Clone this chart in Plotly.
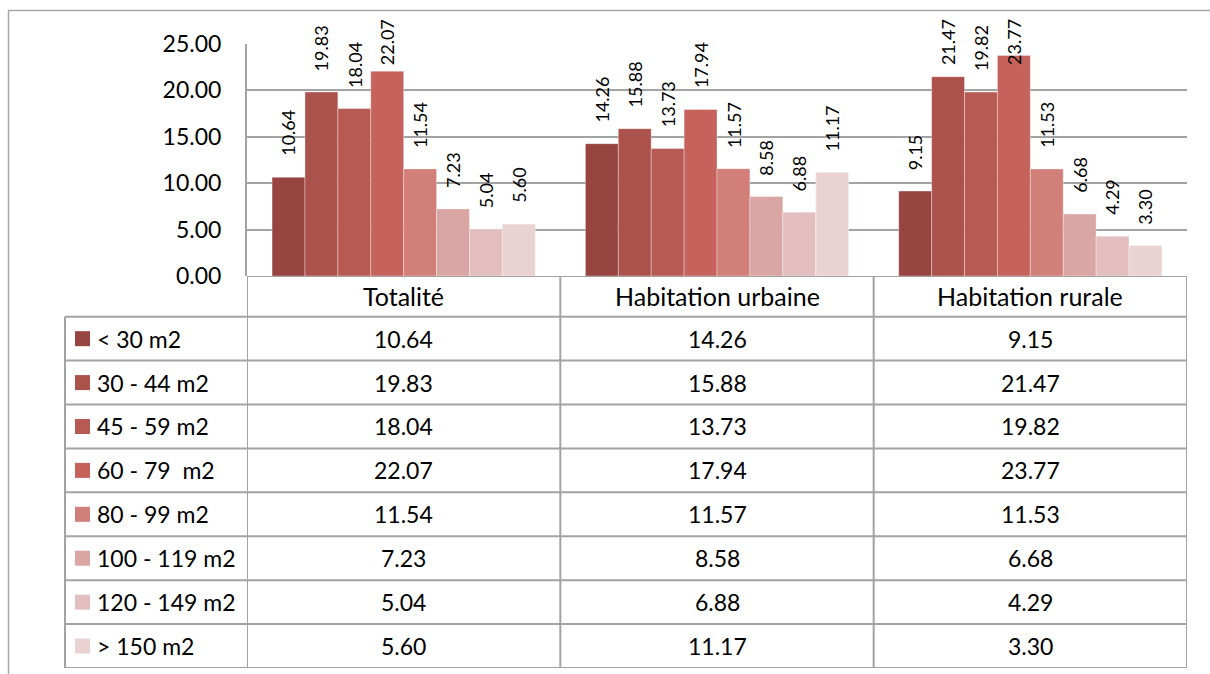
import plotly.graph_objects as go

categories = ["Totalité", "Habitation urbaine", "Habitation rurale"]
series_names = ["< 30 m2", "30 - 44 m2", "45 - 59 m2", "60 - 79  m2",
                "80 - 99 m2", "100 - 119 m2", "120 - 149 m2", "> 150 m2"]
values = [
    [10.64, 14.26, 9.15],
    [19.83, 15.88, 21.47],
    [18.04, 13.73, 19.82],
    [22.07, 17.94, 23.77],
    [11.54, 11.57, 11.53],
    [7.23, 8.58, 6.68],
    [5.04, 6.88, 4.29],
    [5.60, 11.17, 3.30],
]
colors = ["#984441", "#AC524C", "#B85A54", "#C6625C",
          "#D27E79", "#DAA6A3", "#E2BFBE", "#EBD2D2"]
y_ticks = [0, 5, 10, 15, 20, 25]

W, H = 1210, 674
FONT = "Lato"
GRID = "#A3A3A3"

# pixel layout
plot_l, plot_r = 247, 1187
plot_t, plot_b = 44, 276
tab_l = 65
tab_b = 668
hdr_h = 40.7
row_h = (tab_b - plot_b - hdr_h) / len(series_names)

def px(x):
    return x / W

def py(y):
    return 1 - y / H

bargap = 0.16
n = len(series_names)
xs = list(range(len(categories)))

fig = go.Figure()
for i, (name, vals, col) in enumerate(zip(series_names, values, colors)):
    fig.add_trace(go.Bar(
        x=xs, y=vals, name=name, marker=dict(color=col, line=dict(color="rgba(255,255,255,0.35)", width=1)),
        showlegend=False, xaxis="x", yaxis="y", hoverinfo="skip",
    ))

# data labels
px_per_unit = (plot_b - plot_t) / (y_ticks[-1] - y_ticks[0])
gap_u = 20 / px_per_unit
cap_u = (plot_b - 66) / px_per_unit
bw = (1 - bargap) / n
annotations = []
for i, vals in enumerate(values):
    off = -(1 - bargap) / 2 + (i + 0.5) * bw
    for g, v in enumerate(vals):
        annotations.append(dict(
            x=g + off, y=min(v + gap_u, cap_u), xref="x", yref="y",
            text=f"{v:.2f}", textangle=-90, showarrow=False,
            xanchor="center", yanchor="bottom", borderpad=0,
            font=dict(family=FONT, size=18, color="#000"),
        ))

# table text
for r, vals in enumerate(values):
    for g, v in enumerate(vals):
        annotations.append(dict(x=g, y=r, xref="x", yref="y2", text=f"{v:.2f}",
                                showarrow=False, xanchor="center", yanchor="middle",
                                font=dict(family=FONT, size=23, color="#000")))
hdr_center = -0.5 - (hdr_h / row_h) / 2
for g, c in enumerate(categories):
    annotations.append(dict(x=g, y=hdr_center, xref="x", yref="y2", text=c,
                            showarrow=False, xanchor="center", yanchor="middle",
                            font=dict(family=FONT, size=25, color="#000")))

top_u = -0.5 - hdr_h / row_h
shapes = []
line = dict(color=GRID, width=2)
# legend column
for r, (name, col) in enumerate(zip(series_names, colors)):
    h = 7.5 / row_h
    shapes.append(dict(type="rect", xref="paper", yref="y2", x0=px(75), x1=px(90),
                       y0=r - h, y1=r + h, fillcolor=col, line=dict(width=0)))
    annotations.append(dict(x=px(95), y=r, xref="paper", yref="y2", text=name,
                            showarrow=False, xanchor="left", yanchor="middle",
                            font=dict(family=FONT, size=23, color="#000")))
# horizontal table lines
shapes.append(dict(type="line", xref="x", yref="y2", x0=-0.5, x1=len(categories) - 0.5,
                   y0=top_u, y1=top_u, line=line))
for k in range(n + 1):
    yk = k - 0.5
    shapes.append(dict(type="line", xref="paper", yref="y2", x0=px(tab_l), x1=px(plot_r),
                       y0=yk, y1=yk, line=line))
# vertical table lines
shapes.append(dict(type="line", xref="paper", yref="y2", x0=px(tab_l), x1=px(tab_l),
                   y0=-0.5, y1=n - 0.5, line=line))
for g in range(len(categories) + 1):
    xg = g - 0.5
    shapes.append(dict(type="line", xref="x", yref="y2", x0=xg, x1=xg,
                       y0=top_u, y1=n - 0.5, line=line))
# chart outer border
shapes.append(dict(type="line", xref="paper", yref="paper", x0=px(8), x1=1, y0=py(10.5), y1=py(10.5),
                   line=dict(color="#A8A8A8", width=1.5)))
shapes.append(dict(type="line", xref="paper", yref="paper", x0=px(8.5), x1=px(8.5), y0=0, y1=py(10.5),
                   line=dict(color="#A8A8A8", width=1.5)))

fig.update_layout(
    width=W, height=H, margin=dict(l=0, r=0, t=0, b=0, pad=0, autoexpand=False),
    paper_bgcolor="white", plot_bgcolor="rgba(0,0,0,0)",
    barmode="group", bargap=bargap, bargroupgap=0,
    xaxis=dict(domain=[px(plot_l), px(plot_r)], range=[-0.5, len(categories) - 0.5],
               showticklabels=False, showgrid=False, zeroline=False, showline=False,
               fixedrange=True, automargin=False),
    yaxis=dict(domain=[py(plot_b), py(plot_t)], range=[y_ticks[0], y_ticks[-1]],
               tickvals=y_ticks, tickformat=".2f", showgrid=True, gridcolor=GRID, gridwidth=2,
               zeroline=False, showline=True, linecolor=GRID, linewidth=2,
               ticks="", ticklabelstandoff=19, automargin=False,
               tickfont=dict(family=FONT, size=23, color="#000"), fixedrange=True),
    yaxis2=dict(domain=[py(tab_b), py(plot_b)], range=[n - 0.5, top_u], anchor="x",
                showticklabels=False, showgrid=False, zeroline=False, showline=False,
                fixedrange=True, automargin=False),
    shapes=shapes, annotations=annotations, showlegend=False,
)

fig.write_html("out.html", config={"displayModeBar": False},
               post_script="document.body.style.margin='0';document.body.style.overflow='hidden';")
